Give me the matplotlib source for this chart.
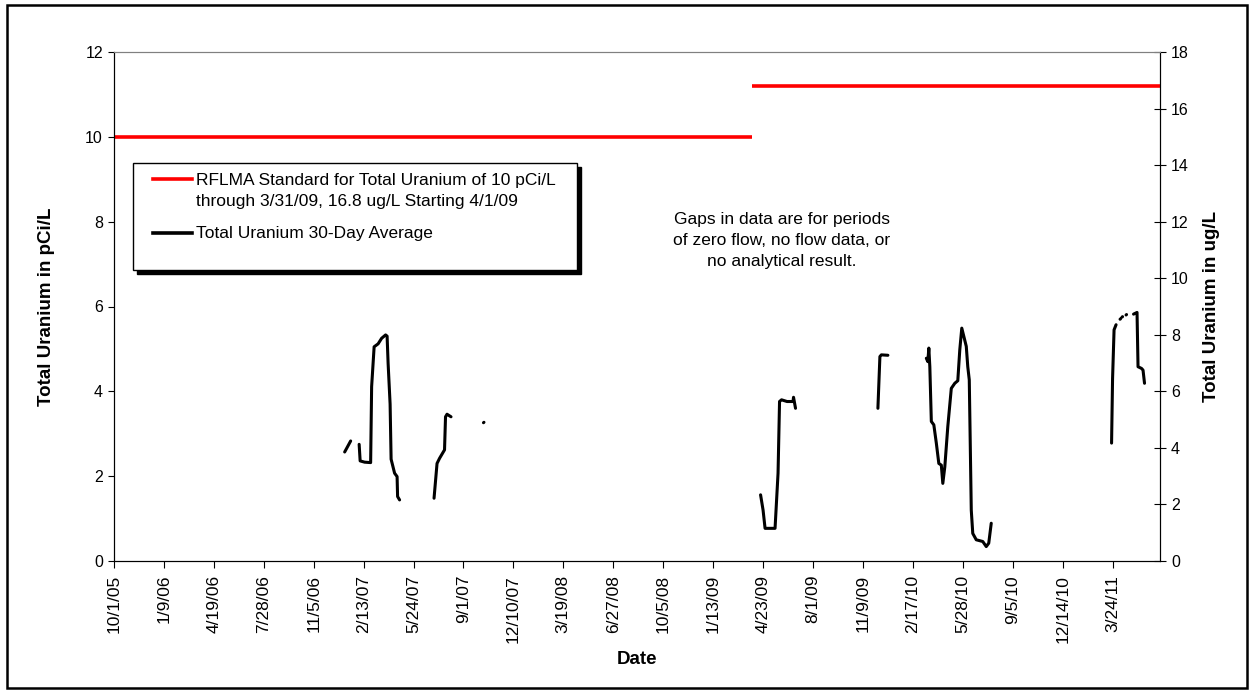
import numpy as np
import pandas as pd
import matplotlib
matplotlib.use('Agg')
import matplotlib.pyplot as plt
from matplotlib.patches import Rectangle
from matplotlib.lines import Line2D

plt.rcParams['font.family'] = ['Liberation Sans', 'DejaVu Sans']

# x tick labels as printed on the chart (every 100 days)
tick_labels = ['10/1/05', '1/9/06', '4/19/06', '7/28/06', '11/5/06', '2/13/07', '5/24/07',
               '9/1/07', '12/10/07', '3/19/08', '6/27/08', '10/5/08', '1/13/09', '4/23/09',
               '8/1/09', '11/9/09', '2/17/10', '5/28/10', '9/5/10', '12/14/10', '3/24/11']
x_start = '2005-10-01'
x_end = '2011-06-27'

# RFLMA standard: 10 pCi/L through 3/31/09, 16.8 ug/L from 4/1/09
std_old_dates = ['2005-10-01', '2009-03-31']
std_old_pci = 10.0
std_new_dates = ['2009-04-01', x_end]
std_new_ugl = 16.8

# total uranium 30-day average in pCi/L, NaN = gap (no flow / no data / no result)
nan = np.nan
u_dates = [
    '2007-01-06', '2007-01-12', '2007-01-18', '2007-01-18',
    '2007-02-04', '2007-02-06', '2007-02-15', '2007-02-27', '2007-03-01', '2007-03-06',
    '2007-03-14', '2007-03-21', '2007-03-29', '2007-04-01', '2007-04-03', '2007-04-07',
    '2007-04-09', '2007-04-16', '2007-04-21', '2007-04-22', '2007-04-26', '2007-04-26',
    '2007-07-04', '2007-07-10', '2007-07-15', '2007-07-25', '2007-07-27', '2007-07-30',
    '2007-08-07', '2007-08-07',
    '2007-10-11', '2007-10-12', '2007-10-12',
    '2009-04-18', '2009-04-23', '2009-04-27', '2009-05-17', '2009-05-23', '2009-05-26',
    '2009-05-30', '2009-06-10', '2009-06-22', '2009-06-23', '2009-06-27', '2009-06-27',
    '2009-12-09', '2009-12-13', '2009-12-16', '2009-12-29', '2009-12-29',
    '2010-03-16', '2010-03-19', '2010-03-21', '2010-03-23', '2010-03-26', '2010-03-31',
    '2010-04-05', '2010-04-10', '2010-04-15', '2010-04-18', '2010-04-22', '2010-04-28',
    '2010-05-05', '2010-05-12', '2010-05-18', '2010-05-22', '2010-05-26', '2010-06-04',
    '2010-06-07', '2010-06-10', '2010-06-14', '2010-06-17', '2010-06-24', '2010-07-07',
    '2010-07-14', '2010-07-19', '2010-07-24', '2010-07-24',
    '2011-03-22', '2011-03-24', '2011-03-27', '2011-03-31', '2011-03-31',
    '2011-04-08', '2011-04-09', '2011-04-09',
    '2011-04-12', '2011-04-13', '2011-04-13',
    '2011-04-20', '2011-04-21', '2011-04-21',
    '2011-05-05', '2011-05-12', '2011-05-14', '2011-05-21', '2011-05-24', '2011-05-27',
]
u_pci = [
    2.57, 2.70, 2.83, nan,
    2.75, 2.36, 2.33, 2.32, 4.11, 5.05,
    5.12, 5.25, 5.33, 5.30, 4.66, 3.70,
    2.40, 2.07, 1.99, 1.52, 1.44, nan,
    1.48, 2.30, 2.42, 2.62, 3.40, 3.46,
    3.40, nan,
    3.26, 3.27, nan,
    1.56, 1.20, 0.77, 0.77, 2.07, 3.76,
    3.80, 3.76, 3.76, 3.86, 3.60, nan,
    3.60, 4.82, 4.86, 4.85, nan,
    4.78, 4.70, 5.02, 4.58, 3.29, 3.21,
    2.78, 2.30, 2.26, 1.83, 2.22, 3.17,
    4.07, 4.19, 4.25, 4.98, 5.49, 5.06,
    4.58, 4.27, 1.20, 0.65, 0.50, 0.46,
    0.34, 0.42, 0.89, nan,
    2.78, 4.30, 5.45, 5.57, nan,
    5.70, 5.71, nan,
    5.75, 5.76, nan,
    5.80, 5.81, nan,
    5.82, 5.86, 4.58, 4.54, 4.50, 4.19,
]

df = pd.DataFrame({'date': pd.to_datetime(u_dates), 'pci': u_pci})
ticks = pd.to_datetime(tick_labels, format='%m/%d/%y')

fig = plt.figure(figsize=(12.52, 6.91), dpi=100)
ax = fig.add_axes([114 / 1252, 1 - 561 / 691, 1046 / 1252, 509 / 691])
ax2 = ax.twinx()

ax.plot(pd.to_datetime(std_old_dates), [std_old_pci, std_old_pci], color='#ff0000', lw=2.6,
        solid_capstyle='butt')
ax2.plot(pd.to_datetime(std_new_dates), [std_new_ugl, std_new_ugl], color='#ff0000', lw=2.6,
         solid_capstyle='butt')
ax.plot(df['date'], df['pci'], color='black', lw=2.2, solid_capstyle='round',
        solid_joinstyle='round')

ax.set_xlim(pd.Timestamp(x_start), pd.Timestamp(x_end))
ax.set_ylim(0, 12)
ax2.set_ylim(0, 18)
ax.set_yticks(range(0, 13, 2))
ax2.set_yticks(range(0, 19, 2))
ax.set_xticks(ticks)
ax.set_xticklabels(tick_labels, rotation=90)

ax.tick_params(axis='y', direction='out', length=4, labelsize=11.5, pad=4)
ax.tick_params(axis='x', direction='out', length=5, labelsize=12.5, pad=5)
ax2.tick_params(axis='y', direction='inout', length=8, labelsize=11.5, pad=4)

for a in (ax, ax2):
    a.spines['top'].set_color('#808080')
    a.spines['left'].set_color('black')
    a.spines['right'].set_color('black')
    a.spines['bottom'].set_color('black')

ax.set_ylabel('Total Uranium in pCi/L', fontsize=13.5, fontweight='bold')
ax2.set_ylabel('Total Uranium in ug/L', fontsize=13.5, fontweight='bold')
ax.set_xlabel('Date', fontsize=13.5, fontweight='bold')
ax.yaxis.set_label_coords(-0.056, 0.5)
ax2.yaxis.set_label_coords(1.041, 0.5)
ax.xaxis.set_label_coords(0.5, -0.176)

# legend box drawn by hand with the black drop shadow
lx, ly, lw_, lh = 0.0182, 0.5717, 0.4245, 0.2102
ax.add_patch(Rectangle((lx + 0.0038, ly - 0.0079), lw_, lh, transform=ax.transAxes,
                       facecolor='black', edgecolor='black', zorder=5))
ax.add_patch(Rectangle((lx, ly), lw_, lh, transform=ax.transAxes,
                       facecolor='white', edgecolor='black', lw=1, zorder=6))
ax.add_line(Line2D([0.0373, 0.0746], [0.7505, 0.7505], transform=ax.transAxes,
                   color='#ff0000', lw=2.6, zorder=7))
ax.add_line(Line2D([0.0373, 0.0746], [0.6444, 0.6444], transform=ax.transAxes,
                   color='black', lw=2.6, zorder=7))
ax.text(0.0784, 0.7269, 'RFLMA Standard for Total Uranium of 10 pCi/L\n'
        'through 3/31/09, 16.8 ug/L Starting 4/1/09',
        transform=ax.transAxes, fontsize=12.5, va='center', ha='left', linespacing=1.5,
        zorder=8)
ax.text(0.0784, 0.6444, 'Total Uranium 30-Day Average', transform=ax.transAxes,
        fontsize=12.5, va='center', ha='left', zorder=8)

ax.text(0.6386, 0.6306, 'Gaps in data are for periods\nof zero flow, no flow data, or\n'
        'no analytical result.', transform=ax.transAxes, fontsize=12.5, ha='center',
        va='center', linespacing=1.5)

# outer chart border
fig.patches.append(Rectangle((7 / 1252, 3 / 691), 1240 / 1252, 683 / 691,
                             transform=fig.transFigure, fill=False, edgecolor='black', lw=1.8))

fig.savefig('out.png', dpi=100)
